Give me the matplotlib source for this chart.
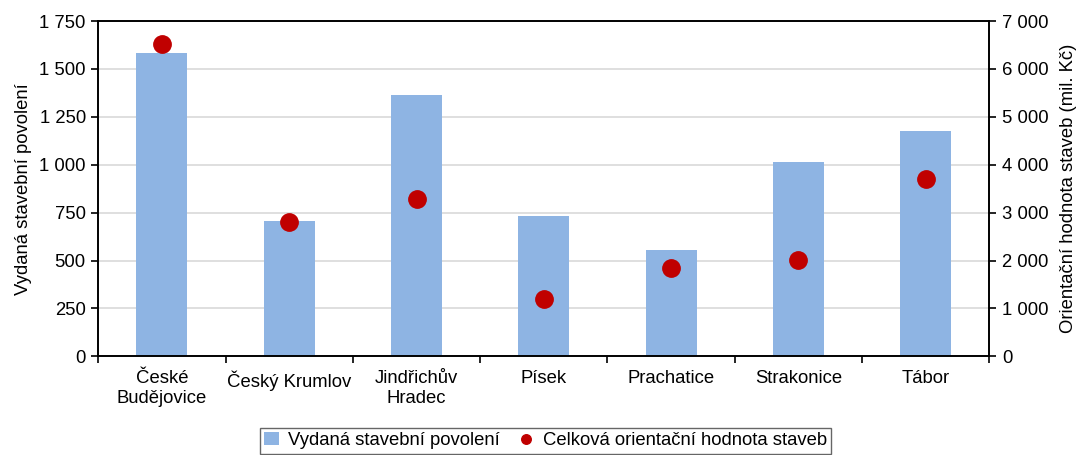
import matplotlib
matplotlib.use("Agg")
import matplotlib.pyplot as plt
from matplotlib.ticker import FuncFormatter, FixedLocator
import numpy as np

plt.rcParams['font.family'] = ['Liberation Sans', 'DejaVu Sans']
fs = 13.3

# data
okresy = ['České\nBudějovice', 'Český Krumlov', 'Jindřichův\nHradec', 'Písek',
          'Prachatice', 'Strakonice', 'Tábor']
povoleni = [1581, 706, 1364, 731, 555, 1014, 1176]
hodnota = [6520, 2810, 3278, 1190, 1850, 2010, 3701]

def fmt(v, pos):
    return '{:,.0f}'.format(v).replace(',', ' ')

fig = plt.figure(figsize=(10.81, 4.55), dpi=100)
ax1 = fig.add_axes([0.0909, 0.2169, 0.8243, 0.7369])
ax2 = ax1.twinx()

x = np.arange(len(okresy))
bars = ax1.bar(x, povoleni, width=0.4, color='#8EB4E3', zorder=2,
               label='Vydaná stavební povolení')
pts, = ax2.plot(x, hodnota, 'o', color='#C00000', markersize=12.5, zorder=3,
                label='Celková orientační hodnota staveb')

ax1.set_xlim(-0.5, len(okresy) - 0.5)
ax1.set_ylim(0, 1750)
ax2.set_ylim(0, 7000)
ax1.set_yticks(np.arange(0, 1751, 250))
ax2.set_yticks(np.arange(0, 7001, 1000))
ax1.yaxis.set_major_formatter(FuncFormatter(fmt))
ax2.yaxis.set_major_formatter(FuncFormatter(fmt))
ax1.grid(axis='y', color='#d9d9d9', linewidth=1.2, zorder=0)
ax1.set_axisbelow(True)

ax1.set_xticks(x)
ax1.set_xticklabels(okresy, fontsize=fs, linespacing=1.2)
ax1.tick_params(axis='x', which='major', length=0, pad=10)
ax1.xaxis.set_minor_locator(FixedLocator(np.arange(-0.5, len(okresy), 1.0)))
ax1.tick_params(axis='x', which='minor', length=5, width=1.2, direction='out')
ax1.tick_params(axis='y', labelsize=fs, length=5, width=1.2, pad=4)
ax2.tick_params(axis='y', labelsize=fs, length=5, width=1.2, pad=4)

for ax in (ax1, ax2):
    for s in ax.spines.values():
        s.set_linewidth(1.2)
        s.set_color('black')

ax1.set_ylabel('Vydaná stavební povolení', fontsize=fs, labelpad=5)
ax2.set_ylabel('Orientační hodnota staveb (mil. Kč)', fontsize=fs, labelpad=8)

leg = fig.legend(handles=[bars, pts], loc='center', bbox_to_anchor=(0.5046, 0.031),
                 ncol=2, fontsize=fs, frameon=True, fancybox=False,
                 handlelength=0.8, handletextpad=0.5, columnspacing=1.0,
                 borderpad=0.25, markerscale=0.55)
leg.get_frame().set_edgecolor('#404040')
leg.get_frame().set_linewidth(1.0)

fig.savefig('out.png', dpi=100)
